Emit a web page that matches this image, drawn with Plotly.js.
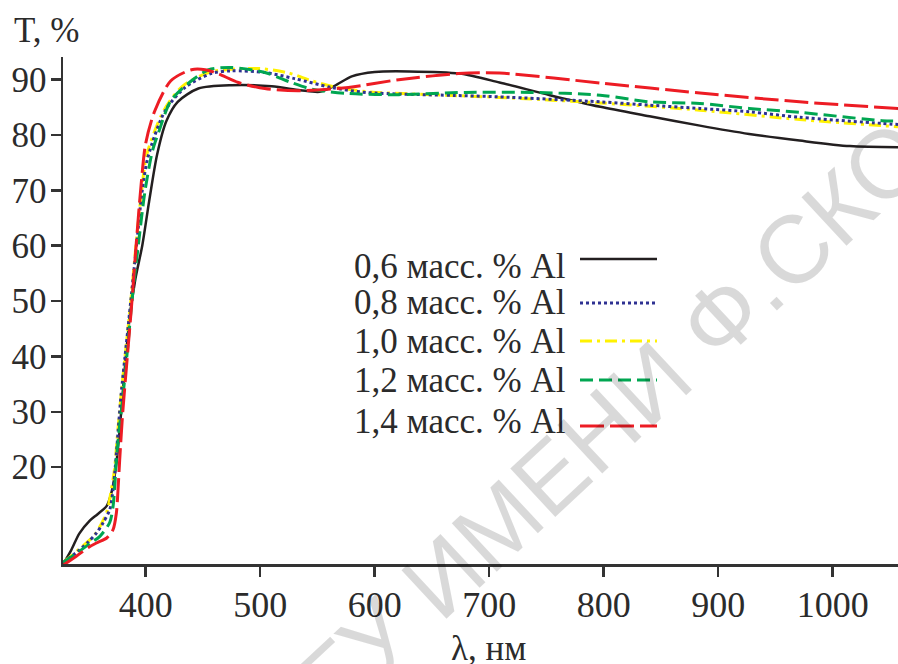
<!DOCTYPE html>
<html>
<head>
<meta charset="utf-8">
<script src="https://cdn.plot.ly/plotly-3.0.1.min.js"></script>
<style>html,body{margin:0;padding:0;background:#fff;}#chart{width:898px;height:664px;}</style>
</head>
<body>
<div id="chart"></div>
<script>
// ---- data ----
const seriesNames = ["0,6 масс. % Al", "0,8 масс. % Al", "1,0 масс. % Al", "1,2 масс. % Al", "1,4 масс. % Al"];

const lambda06 = [328, 335, 342, 351, 358, 366, 370, 374, 377, 381, 386, 391, 397, 403, 410, 418, 428, 446, 475, 510, 535, 552, 565, 580, 600, 630, 674, 709, 753, 797, 840, 884, 927, 971, 1015, 1057];
const T06      = [2.5, 5, 8, 10.3, 11.5, 13, 15.3, 20, 26, 36, 47, 54, 60, 68, 76.5, 82.5, 86, 88.4, 89, 88.8, 88.1, 87.8, 88.9, 90.6, 91.4, 91.5, 91.1, 89.5, 87.2, 85.1, 83.4, 81.7, 80.2, 79, 78, 77.8];

const lambda08 = [328, 342, 350, 357, 362.7, 368.6, 371.5, 373, 375, 378.5, 383, 387, 392, 397, 402, 417, 434.5, 457, 475, 504, 530, 562, 592, 679, 709, 797, 840, 884, 927, 971, 1043, 1057];
const T08      = [2.8, 5, 6.5, 8.1, 9.9, 12.3, 15.9, 18.9, 24, 33, 42, 50, 60, 70, 76, 84.4, 88.6, 91.1, 91.6, 91.3, 90.2, 88.6, 87.7, 87.1, 86.9, 86, 85.4, 84.8, 84.2, 83.2, 82.1, 81.9];

const lambda10 = [328, 342, 355.5, 365.7, 370, 373, 375, 378.5, 383, 387, 391.5, 396, 401, 416, 432, 455, 475, 500, 525, 545, 565, 595, 650, 709, 797, 884, 971, 1057];
const T10      = [2.8, 5.2, 7.8, 11.7, 15.9, 20, 25, 33, 42, 50, 60, 69, 76.5, 84.5, 88.8, 91.3, 91.9, 92, 91.2, 89.8, 88.7, 87.8, 87.3, 86.8, 85.8, 84.5, 82.8, 81.5];

const lambda12 = [328, 342, 352, 360, 368.6, 371.5, 373, 374.4, 377, 380, 384, 388, 393.5, 399.5, 406, 411, 422, 440, 455, 475, 504, 527, 545, 577, 621, 679, 737, 797, 840, 884, 927, 971, 1043, 1057];
const T12      = [2.8, 4.8, 6.3, 7.5, 10, 12.9, 16.5, 21.3, 27, 32.5, 41, 50, 60, 70, 77.2, 80.3, 86.2, 89.8, 91.8, 92.2, 91.3, 89.5, 88.3, 87.5, 87.3, 87.7, 87.7, 87.2, 86, 85.7, 84.8, 84.1, 82.6, 82.5];

const lambda14 = [328, 340, 350, 357, 366, 371.5, 374.4, 376, 377.3, 380, 384, 388, 392, 396, 400, 408, 422, 440, 452, 463, 481, 504, 533, 577, 621, 673, 709, 797, 884, 971, 1057];
const T14      = [2.3, 4, 5.5, 6.3, 7.2, 8.7, 11.7, 16.5, 21.3, 30, 40, 50, 61, 71, 78.5, 84.4, 89.8, 91.8, 91.8, 91.1, 89.5, 88.4, 88, 88.6, 90, 91.1, 91.2, 89.4, 87.6, 86, 84.8];

const xTickVals = [400, 500, 600, 700, 800, 900, 1000];
const xTickText = ["400", "500", "600", "700", "800", "900", "1000"];
const yTickVals = [20, 30, 40, 50, 60, 70, 80, 90];
const yTickText = ["20", "30", "40", "50", "60", "70", "80", "90"];

const xTitle = "λ, нм";
const yTitle = "T, %";
const watermark = "ГГУ ИМЕНИ Ф.СКОРИНЫ";

// ---- styles ----
const styles = [
  {color: "#231f20", dash: "solid", width: 2.5},
  {color: "#2e3192", dash: "3px,3px", width: 3},
  {color: "#fff200", dash: "12px,5px,3px,5px", width: 3},
  {color: "#00a651", dash: "13px,6px", width: 3},
  {color: "#ed1c24", dash: "24px,6px", width: 3}
];
const xs = [lambda06, lambda08, lambda10, lambda12, lambda14];
const ys = [T06, T08, T10, T12, T14];
const drawOrder = [0, 2, 1, 3, 4];

const traces = drawOrder.map(i => ({
  x: xs[i], y: ys[i], type: "scatter", mode: "lines", name: seriesNames[i],
  line: {color: styles[i].color, dash: styles[i].dash, width: styles[i].width, shape: "spline", smoothing: 0.8},
  showlegend: false, hoverinfo: "skip"
}));

// pixel -> paper helpers (plot area: left 63, right 898, top 57, bottom 564)
const L = 63, R = 898, TOP = 57, BOT = 564;
const px = v => (v - L) / (R - L);
const py = v => (BOT - v) / (BOT - TOP);

const serif = "Liberation Serif, Times New Roman, serif";
const textColor = "#2b2b2b";

const legendTextY = [266, 302, 341, 381, 421];
const legendLineY = [259, 303, 341, 380, 426];

const annotations = [];
const shapes = [];
seriesNames.forEach((n, i) => {
  annotations.push({xref: "paper", yref: "paper", x: px(568), y: py(legendTextY[i]), xanchor: "right", yanchor: "middle",
    text: n, showarrow: false, font: {family: serif, size: 35, color: textColor}});
  shapes.push({type: "line", xref: "paper", yref: "paper", x0: px(580), x1: px(657), y0: py(legendLineY[i]), y1: py(legendLineY[i]),
    line: {color: styles[i].color, width: styles[i].width, dash: styles[i].dash}});
});
annotations.push({xref: "paper", yref: "paper", x: px(12), y: py(31), xanchor: "left", yanchor: "middle",
  text: yTitle, showarrow: false, font: {family: serif, size: 35, color: textColor}});
annotations.push({xref: "paper", yref: "paper", x: px(488), y: py(648), xanchor: "center", yanchor: "middle",
  text: xTitle, showarrow: false, font: {family: serif, size: 35, color: textColor}});
annotations.push({xref: "paper", yref: "paper", x: px(700), y: py(337), xanchor: "center", yanchor: "middle",
  text: watermark, textangle: -43, showarrow: false, font: {family: "Liberation Sans, Arial, sans-serif", size: 96, color: "rgba(0,0,0,0.15)"}});

const layout = {
  width: 898, height: 664,
  margin: {l: L, r: 898 - R, t: TOP, b: 664 - BOT, pad: 0},
  paper_bgcolor: "#fff", plot_bgcolor: "#fff",
  showlegend: false,
  xaxis: {range: [327.8, 1057], tickvals: xTickVals, ticktext: xTickText, showgrid: false, zeroline: false,
    showline: true, linecolor: "#333", linewidth: 2.5, ticks: "outside", ticklen: 10, tickwidth: 2.5, tickcolor: "#333",
    ticklabelstandoff: -3,
    tickfont: {family: serif, size: 36, color: textColor}},
  yaxis: {range: [2.5, 94.1], tickvals: yTickVals, ticktext: yTickText, showgrid: false, zeroline: false,
    showline: true, linecolor: "#333", linewidth: 2.5, ticks: "outside", ticklen: 10, tickwidth: 2.5, tickcolor: "#333",
    ticklabelstandoff: -3,
    tickfont: {family: serif, size: 35, color: textColor}},
  annotations: annotations,
  shapes: shapes
};

Plotly.newPlot("chart", traces, layout, {staticPlot: true, displayModeBar: false});
</script>
</body>
</html>
